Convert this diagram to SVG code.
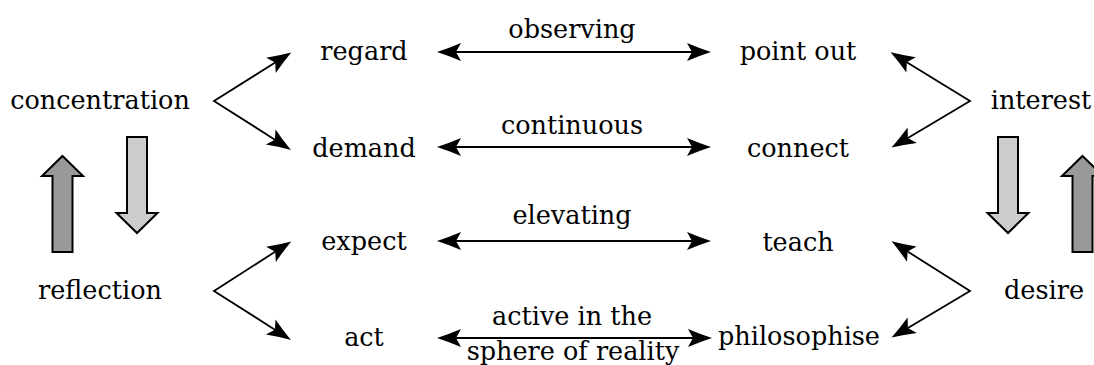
<svg xmlns="http://www.w3.org/2000/svg" width="1094" height="365" viewBox="0 0 1094 365">
<style>
  text { font-family: "DejaVu Serif", serif; font-size: 25.5px; fill: #000; text-anchor: middle; }
  .con { fill: none; stroke: #000; stroke-width: 1.8; stroke-linejoin: miter; marker-start: url(#ah); marker-end: url(#ah); }
  .blk { stroke: #000; stroke-width: 2; stroke-linejoin: miter; }
  .dark { fill: #999999; }
  .light { fill: #cccccc; }
</style>
<defs>
  <marker id="ah" markerUnits="userSpaceOnUse" markerWidth="28" markerHeight="22" viewBox="0 -11 28 22" refX="5" refY="0" orient="auto-start-reverse" overflow="visible">
    <path d="M24,0 Q13,-3.5 0,-9 L5,0 L0,9 Q13,3.5 24,0 Z" fill="#000"/>
  </marker>
</defs>

<g id="connectors">
  <polyline class="con" points="275.2,62.6 214,101 274.9,139.7"/>
  <polyline class="con" points="275.2,251.7 214,291 274.9,329.7"/>
  <polyline class="con" points="906.8,62.2 970,101 907.9,137.9"/>
  <polyline class="con" points="907.6,251.5 970,291 907.9,327.9"/>
  <line class="con" x1="456" y1="52" x2="692" y2="52"/>
  <line class="con" x1="456" y1="147" x2="692" y2="147"/>
  <line class="con" x1="456" y1="241" x2="692" y2="241"/>
  <line class="con" x1="456" y1="338" x2="693" y2="338"/>
</g>

<g id="block-arrows">
  <polygon class="blk dark" points="62.5,156 83,176 72.5,176 72.5,252 52.5,252 52.5,176 42,176"/>
  <polygon class="blk light" points="127,137 147,137 147,213 157.5,213 137,233 116.5,213 127,213"/>
  <polygon class="blk light" points="998,137 1018,137 1018,213 1028.5,213 1008,233 987.5,213 998,213"/>
  <polygon class="blk dark" points="1082.5,156 1103,176 1092.5,176 1092.5,252 1072.5,252 1072.5,176 1062,176"/>
</g>

<g id="concentration"><text x="100" y="109">concentration</text></g>
<g id="reflection"><text x="100" y="299">reflection</text></g>
<g id="regard"><text x="364" y="60">regard</text></g>
<g id="demand"><text x="364" y="157">demand</text></g>
<g id="expect"><text x="364" y="250">expect</text></g>
<g id="act"><text x="364" y="346">act</text></g>
<g id="point-out"><text x="798" y="60">point out</text></g>
<g id="connect"><text x="798" y="157">connect</text></g>
<g id="teach"><text x="798" y="251">teach</text></g>
<g id="philosophise"><text x="799" y="345">philosophise</text></g>
<g id="interest"><text x="1041" y="109">interest</text></g>
<g id="desire"><text x="1044" y="299">desire</text></g>

<g id="labels">
  <text x="572" y="38">observing</text>
  <text x="572" y="134">continuous</text>
  <text x="572" y="224">elevating</text>
  <text x="572" y="325">active in the</text>
  <text x="573" y="360">sphere of reality</text>
</g>
</svg>
